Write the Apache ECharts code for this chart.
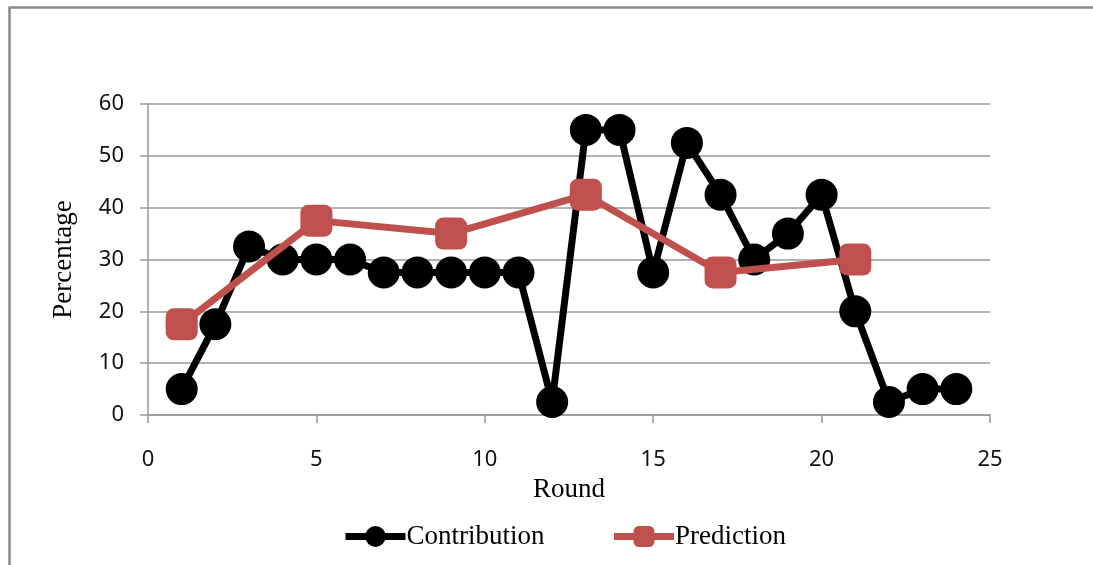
<!DOCTYPE html>
<html>
<head>
<meta charset="utf-8">
<script src="https://cdn.jsdelivr.net/npm/echarts@6/dist/echarts.min.js"></script>
<style>
  html, body { margin: 0; padding: 0; background: #fff; }
  #chart { width: 1093px; height: 565px; }
</style>
</head>
<body>
<div id="chart"></div>
<script>
// Rounds and per-round percentages
const contributionRounds = [1, 2, 3, 4, 5, 6, 7, 8, 9, 10, 11, 12, 13, 14, 15, 16, 17, 18, 19, 20, 21, 22, 23, 24];
const contributionValues = [5, 17.5, 32.5, 30, 30, 30, 27.5, 27.5, 27.5, 27.5, 27.5, 2.5, 55, 55, 27.5, 52.5, 42.5, 30, 35, 42.5, 20, 2.5, 5, 5];
const predictionRounds = [1, 5, 9, 13, 17, 21];
const predictionValues = [17.5, 37.5, 35, 42.5, 27.5, 30];

const pairs = (xs, ys) => xs.map((x, i) => [x, ys[i]]);

const chart = echarts.init(document.getElementById('chart'));
const serif = '"Liberation Serif", "Times New Roman", serif';
const sans = '"Noto Sans", "Open Sans", sans-serif';

chart.setOption({
  animation: false,
  backgroundColor: '#fff',
  graphic: [{
    type: 'rect',
    left: 7, top: 5,
    shape: { x: 0, y: 0, width: 1200, height: 700 },
    style: { fill: 'none', stroke: '#8a8a8a', lineWidth: 2.5 },
    silent: true
  }],
  grid: { left: 148, right: 103, top: 104, bottom: 150, containLabel: false },
  legend: {
    bottom: 10,
    left: 337,
    itemWidth: 60,
    itemHeight: 26,
    itemGap: 66,
    lineStyle: { width: 7 },
    textStyle: { fontFamily: serif, fontSize: 27, color: '#000', padding: [0, 0, 0, -4] },
    data: ['Contribution', 'Prediction']
  },
  xAxis: {
    type: 'value',
    min: 0, max: 25, interval: 5,
    name: 'Round',
    nameLocation: 'middle',
    nameGap: 61,
    nameTextStyle: { fontFamily: serif, fontSize: 27, color: '#000' },
    axisLine: { show: true, lineStyle: { color: '#999', width: 1.5 } },
    axisTick: { show: true, length: 8, lineStyle: { color: '#999', width: 1.5 } },
    axisLabel: { margin: 34, fontFamily: sans, fontSize: 22, color: '#111' },
    splitLine: { show: false }
  },
  yAxis: {
    type: 'value',
    min: 0, max: 60, interval: 10,
    name: 'Percentage',
    nameLocation: 'middle',
    nameGap: 71,
    nameRotate: 90,
    nameTextStyle: { fontFamily: serif, fontSize: 27, color: '#000' },
    axisLine: { show: true, lineStyle: { color: '#999', width: 1.5 } },
    axisTick: { show: true, length: 8, lineStyle: { color: '#999', width: 1.5 } },
    axisLabel: { margin: 24, fontFamily: sans, fontSize: 22, color: '#111' },
    splitLine: { show: true, lineStyle: { color: '#999', width: 1.5 } }
  },
  series: [
    {
      name: 'Contribution',
      type: 'line',
      data: pairs(contributionRounds, contributionValues),
      symbol: 'circle',
      symbolSize: 32,
      lineStyle: { color: '#000', width: 7 },
      itemStyle: { color: '#000' },
      z: 2
    },
    {
      name: 'Prediction',
      type: 'line',
      data: pairs(predictionRounds, predictionValues),
      symbol: 'roundRect',
      symbolSize: 32,
      lineStyle: { color: '#C0504D', width: 7 },
      itemStyle: { color: '#C0504D' },
      z: 3
    }
  ]
});
</script>
</body>
</html>
